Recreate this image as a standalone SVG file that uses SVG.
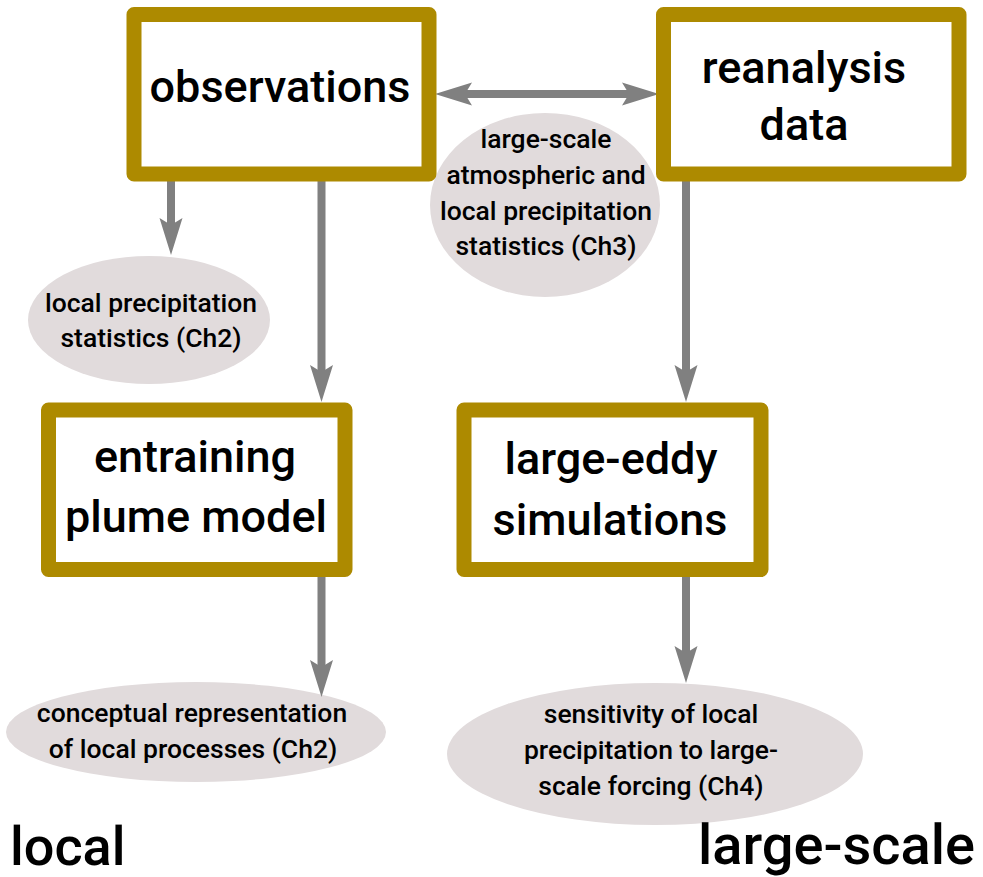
<svg xmlns="http://www.w3.org/2000/svg" width="983" height="877" viewBox="0 0 983 877">
<style>
.box{fill:#fff;stroke:#AD8A00;stroke-width:15;stroke-linejoin:round}
.ell{fill:#E1DBDC}
.con{stroke:#808080;stroke-width:8;fill:none;marker-end:url(#ah)}
.bt{font-family:Roboto,"Liberation Sans",sans-serif;font-weight:500;font-size:45px;fill:#000;text-anchor:middle}
.et{font-family:Roboto,"Liberation Sans",sans-serif;font-weight:500;font-size:26.5px;fill:#000;text-anchor:middle}
.lab{font-family:Roboto,"Liberation Sans",sans-serif;font-weight:500;fill:#000}
</style>
<defs>
<marker id="ah" markerUnits="userSpaceOnUse" orient="auto-start-reverse" refX="0" refY="0" markerWidth="40" markerHeight="24" viewBox="-8 -12 40 24" overflow="visible">
<path d="M30,0 L-7,-11.5 L0,0 L-7,11.5 Z" fill="#808080"/>
</marker>
</defs>
<g id="ellipses">
<g id="e-ch3"><ellipse class="ell" cx="545" cy="205" rx="115" ry="92"/>
<text class="et" x="546" y="148">large-scale</text>
<text class="et" x="546" y="184">atmospheric and</text>
<text class="et" x="546" y="220">local precipitation</text>
<text class="et" x="546" y="255">statistics (Ch3)</text></g>
<g id="e-ch2a"><ellipse class="ell" cx="149" cy="320" rx="121" ry="64"/>
<text class="et" x="151" y="312">local precipitation</text>
<text class="et" x="151" y="347">statistics (Ch2)</text></g>
<g id="e-ch2b"><ellipse class="ell" cx="196" cy="732" rx="190" ry="50"/>
<text class="et" x="192" y="722">conceptual representation</text>
<text class="et" x="193" y="758">of local processes (Ch2)</text></g>
<g id="e-ch4"><ellipse class="ell" cx="655" cy="754" rx="208" ry="71"/>
<text class="et" x="651" y="723">sensitivity of local</text>
<text class="et" x="651" y="759">precipitation to large-</text>
<text class="et" x="651" y="795">scale forcing (Ch4)</text></g>
</g>
<g id="connectors">
<path class="con" style="marker-start:url(#ah)" d="M465,94 H629"/>
<path class="con" d="M171,175 V225"/>
<path class="con" d="M321.5,175 V372"/>
<path class="con" d="M686,175 V372"/>
<path class="con" d="M321.5,570 V667"/>
<path class="con" d="M686,570 V653"/>
</g>
<g id="observations"><rect class="box" x="134" y="14.5" width="295" height="159.5"/>
<text class="bt" x="280" y="102">observations</text></g>
<g id="reanalysis"><rect class="box" x="663.5" y="14.5" width="295.5" height="159.5"/>
<text class="bt" x="804" y="83">reanalysis</text>
<text class="bt" x="804" y="140">data</text></g>
<g id="plume"><rect class="box" x="48.5" y="410" width="296.5" height="159.5"/>
<text class="bt" x="195" y="472">entraining</text>
<text class="bt" x="196" y="531.5">plume model</text></g>
<g id="les"><rect class="box" x="464" y="410" width="297" height="159.5"/>
<text class="bt" x="611" y="473.5">large-eddy</text>
<text class="bt" x="610" y="535">simulations</text></g>
<text class="lab" x="10" y="865" font-size="54">local</text>
<text class="lab" x="975" y="864" font-size="56" text-anchor="end">large-scale</text>
</svg>
